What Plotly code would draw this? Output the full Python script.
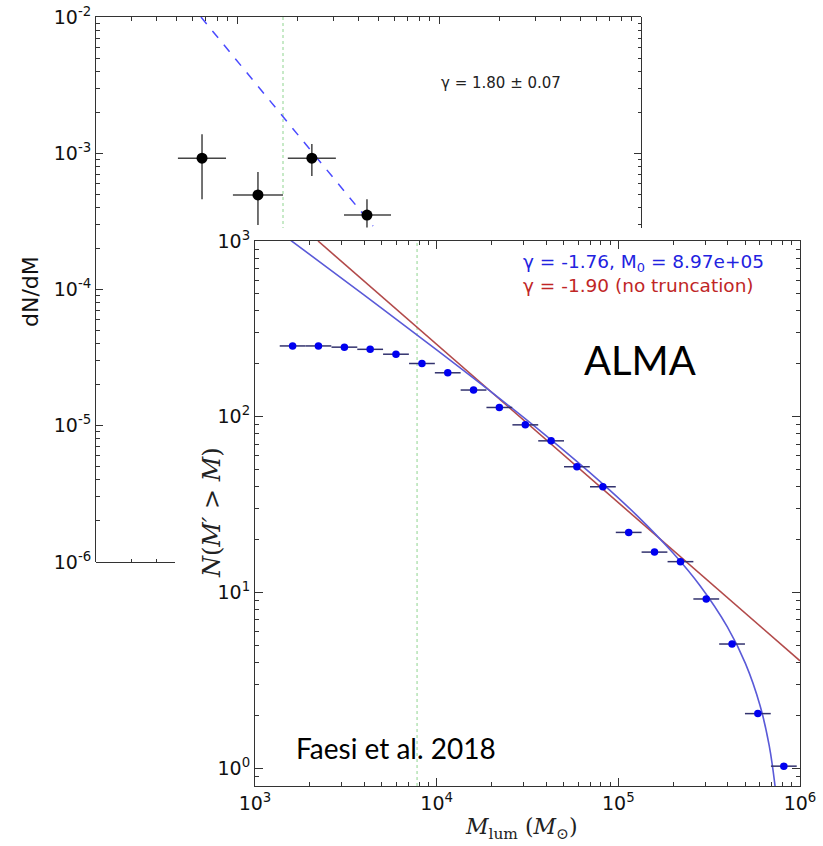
import plotly.graph_objects as go

W, H = 823, 846

# ---------------- back panel data (dN/dM) ----------------
back_M = [670, 1268, 2344, 4395]
back_dNdM = [9.2e-4, 4.94e-4, 9.2e-4, 3.52e-4]
back_M_lo = [509, 953, 1782, 3381]
back_M_hi = [881, 1687, 3083, 5781]
back_y_lo = [4.6e-4, 2.97e-4, 6.8e-4, 2.85e-4]
back_y_hi = [1.38e-3, 7.28e-4, 1.17e-3, 4.6e-4]
back_fit_M = [662, 4710]
back_fit_y = [1e-2, 2.92e-4]
back_cut_M = [1687, 1687]
back_cut_y = [1e-2, 2.83e-4]
back_yticks = [1e-2, 1e-3, 1e-4, 1e-5, 1e-6]
back_yticktext = ["10<sup>-2</sup>", "10<sup>-3</sup>", "10<sup>-4</sup>", "10<sup>-5</sup>", "10<sup>-6</sup>"]

# ---------------- front panel data (ALMA cumulative) ----------------
alma_M = [1611, 2234, 3105, 4305, 5970, 8299, 11508, 15959, 22131, 30761,
          42658, 59156, 82224, 114025, 158125, 219786, 304789, 422669, 586138, 814704]
alma_N = [253, 253, 249, 242, 227, 201, 178, 142, 113, 90,
          73, 52, 40, 22, 17, 15, 9.2, 5.1, 2.05, 1.03]
trunc_M = [1413, 2512, 5012, 10000, 19953, 39811, 79433, 125893, 199526,
           281838, 398107, 501187, 602560, 676083, 724436, 749894]
trunc_N = [1095, 703.5, 412.6, 240.5, 138.7, 78.4, 42.8, 27.6, 16.84,
           10.93, 6.376, 3.945, 2.28, 1.355, 0.836, 0.587]
pl_M = [2223, 1e6]
pl_N = [1000, 4.09]
comp_M = [7800, 7800]
comp_N = [0.794, 1000]
front_xticks = [1e3, 1e4, 1e5, 1e6]
front_xticktext = ["10<sup>3</sup>", "10<sup>4</sup>", "10<sup>5</sup>", "10<sup>6</sup>"]
front_yticks = [1, 10, 100, 1000]
front_yticktext = ["10<sup>0</sup>", "10<sup>1</sup>", "10<sup>2</sup>", "10<sup>3</sup>"]

BIN_HALF_DEX = 0.071

def px(p):
    return p / W

def py(p):
    return 1 - p / H

def minor_vals(decades):
    out = []
    for d in decades:
        for k in range(2, 10):
            out.append(k * d)
    return out

fig = go.Figure()

GREEN = "#8fd48f"

# back panel traces
fig.add_trace(go.Scatter(x=back_cut_M, y=back_cut_y, mode="lines",
                         line=dict(color=GREEN, width=1, dash="dot"),
                         xaxis="x", yaxis="y", hoverinfo="skip"))
fig.add_trace(go.Scatter(x=back_fit_M, y=back_fit_y, mode="lines",
                         line=dict(color="#4a4aff", width=1.5, dash="dash"),
                         xaxis="x", yaxis="y", hoverinfo="skip"))
fig.add_trace(go.Scatter(
    x=back_M, y=back_dNdM, mode="markers",
    marker=dict(color="black", size=11),
    error_x=dict(type="data", symmetric=False,
                 array=[h - m for h, m in zip(back_M_hi, back_M)],
                 arrayminus=[m - l for m, l in zip(back_M, back_M_lo)],
                 color="#444444", thickness=1.5, width=0),
    error_y=dict(type="data", symmetric=False,
                 array=[h - v for h, v in zip(back_y_hi, back_dNdM)],
                 arrayminus=[v - l for v, l in zip(back_dNdM, back_y_lo)],
                 color="#444444", thickness=1.5, width=0),
    xaxis="x", yaxis="y", hoverinfo="skip"))

# helper invisible traces for partial axes of back panel
fig.add_trace(go.Scatter(x=[1000], y=[1e-3], mode="markers", marker=dict(opacity=0),
                         xaxis="x", yaxis="y3", hoverinfo="skip"))
fig.add_trace(go.Scatter(x=[300], y=[1e-5], mode="markers", marker=dict(opacity=0),
                         xaxis="x3", yaxis="y", hoverinfo="skip"))

# front panel traces
fig.add_trace(go.Scatter(x=comp_M, y=comp_N, mode="lines",
                         line=dict(color=GREEN, width=1, dash="dot"),
                         xaxis="x2", yaxis="y2", hoverinfo="skip"))
fig.add_trace(go.Scatter(x=pl_M, y=pl_N, mode="lines",
                         line=dict(color="#b24a4a", width=1.6),
                         xaxis="x2", yaxis="y2", hoverinfo="skip"))
fig.add_trace(go.Scatter(x=trunc_M, y=trunc_N, mode="lines", line_shape="spline",
                         line=dict(color="#5a5ad8", width=1.6),
                         xaxis="x2", yaxis="y2", hoverinfo="skip"))
fig.add_trace(go.Scatter(
    x=alma_M, y=alma_N, mode="markers",
    marker=dict(color="#0000f0", size=7.5),
    error_x=dict(type="data", symmetric=False,
                 array=[m * (10 ** BIN_HALF_DEX - 1) for m in alma_M],
                 arrayminus=[m * (1 - 10 ** -BIN_HALF_DEX) for m in alma_M],
                 color="#32326e", thickness=1.5, width=0),
    xaxis="x2", yaxis="y2", hoverinfo="skip"))

axis_common = dict(showgrid=False, zeroline=False, linecolor="#333333", linewidth=1,
                   tickcolor="#333333", ticks="inside", automargin=False)

fig.update_layout(
    width=W, height=H, autosize=False,
    margin=dict(l=0, r=0, t=0, b=0, pad=0),
    paper_bgcolor="white", plot_bgcolor="rgba(0,0,0,0)",
    showlegend=False,
    font=dict(family="DejaVu Sans", color="#111111"),
    xaxis=dict(type="log", range=[2.30103, 5], domain=[px(96), px(641)], anchor="y",
               side="top", showline=True, tickvals=[1e3, 1e4, 1e5], ticklen=7,
               showticklabels=False,
               minor=dict(ticks="inside", ticklen=3.5, tickcolor="#333333",
                          tickvals=minor_vals([100, 1000, 10000])),
               **axis_common),
    yaxis=dict(type="log", range=[-6, -2], domain=[py(562), py(17)], anchor="x",
               side="left", showline=True, tickvals=back_yticks, ticktext=back_yticktext,
               ticklen=7, tickfont=dict(size=19, family="DejaVu Sans", color="#111111"),
               minor=dict(ticks="inside", ticklen=3.5, tickcolor="#333333",
                          tickvals=minor_vals([1e-6, 1e-5, 1e-4, 1e-3])),
               **axis_common),
    yaxis3=dict(type="log", range=[-3.5486, -2], domain=[py(228), py(17)], anchor="free",
                position=px(641), side="right", showline=True, tickvals=[1e-3], ticklen=7,
                showticklabels=False,
                minor=dict(ticks="inside", ticklen=3.5, tickcolor="#333333",
                           tickvals=minor_vals([1e-4, 1e-3])),
                **axis_common),
    xaxis3=dict(type="log", range=[2.30103, 2.6922], domain=[px(96), px(175)], anchor="free",
                position=py(562), side="bottom", showline=True, tickvals=[1000], ticklen=7,
                showticklabels=False,
                minor=dict(ticks="inside", ticklen=3.5, tickcolor="#333333",
                           tickvals=minor_vals([100])),
                **axis_common),
    xaxis2=dict(type="log", range=[3, 6], domain=[px(255), px(800)], anchor="y2",
                showline=True, mirror="allticks", tickvals=front_xticks,
                ticktext=front_xticktext, ticklen=8,
                tickfont=dict(size=19, family="DejaVu Sans", color="#111111"),
                minor=dict(ticks="inside", ticklen=4, tickcolor="#333333",
                           tickvals=minor_vals([1e3, 1e4, 1e5])),
                **axis_common),
    yaxis2=dict(type="log", range=[-0.1, 3], domain=[py(786), py(241)], anchor="x2",
                showline=True, mirror="allticks", tickvals=front_yticks,
                ticktext=front_yticktext, ticklen=8,
                tickfont=dict(size=19, family="DejaVu Sans", color="#111111"),
                minor=dict(ticks="inside", ticklen=4, tickcolor="#333333",
                           tickvals=minor_vals([0.1, 1, 10, 100])),
                **axis_common),
)

ann = [
    dict(text="dN/dM", x=px(30), y=py(291), textangle=-90,
         font=dict(size=22, family="DejaVu Sans", color="#111111")),
    dict(text="γ = 1.80 ± 0.07", x=px(439), y=py(83), xanchor="left",
         font=dict(size=15, family="DejaVu Sans", color="#222222")),
    dict(text="γ = -1.76, M<sub>0</sub> = 8.97e+05", x=px(521), y=py(263), xanchor="left",
         font=dict(size=18.5, family="DejaVu Sans", color="#2222e0")),
    dict(text="γ = -1.90 (no truncation)", x=px(521), y=py(285), xanchor="left",
         font=dict(size=18.5, family="DejaVu Sans", color="#c02626")),
    dict(text="ALMA", x=px(640), y=py(360),
         font=dict(size=40, family="Lato", color="#000000")),
    dict(text="Faesi et al. 2018", x=px(396), y=py(748),
         font=dict(size=28, family="Lato", color="#000000")),
    dict(text="<i>M</i><sub>lum</sub> (<i>M</i><sub>⊙</sub>)", x=px(521), y=py(828),
         font=dict(size=22, family="DejaVu Serif", color="#222222")),
    dict(text="<i>N</i>(<i>M′</i> > <i>M</i>)", x=px(212), y=py(512), textangle=-90,
         font=dict(size=24, family="DejaVu Serif", color="#222222")),
]
for a in ann:
    a.setdefault("xanchor", "center")
    a.setdefault("yanchor", "middle")
    a.update(xref="paper", yref="paper", showarrow=False)
fig.update_layout(annotations=ann)

fig.write_html("out.html", config={"displayModeBar": False},
               post_script="document.body.style.margin='0px';")
